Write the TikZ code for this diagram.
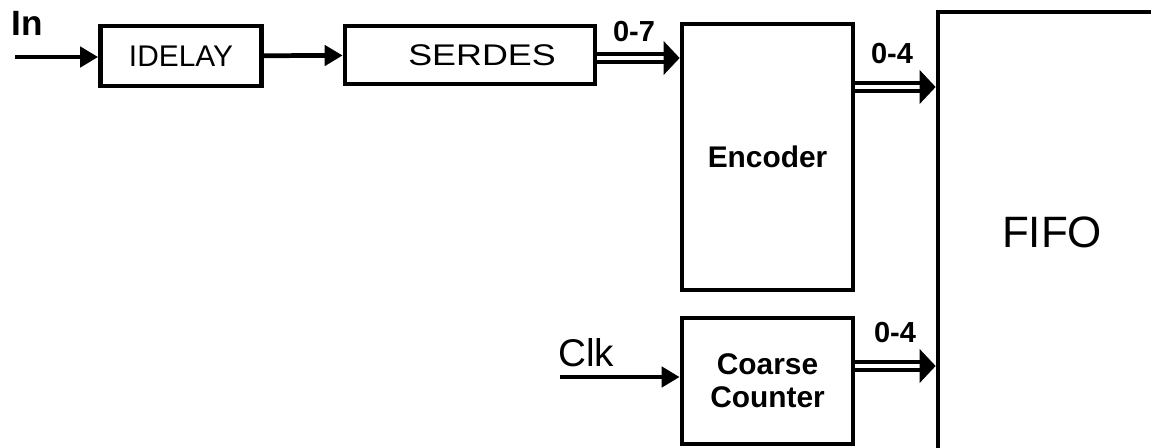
\documentclass[tikz,border=0pt]{standalone}
\usepackage{fontspec}
\setmainfont{Liberation Sans}
\usetikzlibrary{arrows.meta,positioning}

\begin{document}
\begin{tikzpicture}[x=0.02cm, y=-0.02cm, >={Triangle[length=0.36cm,width=0.4cm]}, line width=2.7pt]
    % Define styles
    \tikzstyle{block} = [rectangle, draw, line width=2.7pt, inner sep=0pt, align=center, font=\fontsize{17}{19}\selectfont]
    \tikzstyle{bold block} = [block, font=\fontsize{17}{19}\selectfont\bfseries]
    \tikzstyle{bus} = [double, double distance=1.9pt, -{Triangle[length=0.32cm,width=0.66cm]}]
    \tikzstyle{bus label} = [inner sep=0pt, font=\fontsize{16.5}{18}\selectfont\bfseries]

    % Frame
    \useasboundingbox (0,0) rectangle (1151,447);
    \clip (0,0) rectangle (1151,447);

    % Blocks
    \node[block, minimum width=3.22cm, minimum height=1.2cm] (idelay) at (181,56) {IDELAY};
    \node[block, minimum width=5cm, minimum height=1.16cm] (serdes) at (470,55) {\hspace*{0.48cm}\scalebox{1.2}[1]{SERDES}};
    \node[bold block, minimum width=3.42cm, minimum height=5.32cm] (encoder) at (767.5,157) {Encoder};
    \node[bold block, minimum width=3.42cm, minimum height=2.52cm] (coarse) at (767.5,381) {Coarse\\Counter};
    \node[block, minimum width=4.56cm, minimum height=8.8cm, font=\fontsize{25}{28}\selectfont] (fifo) at (1052,232) {FIFO};

    % Inputs
    \coordinate (inpt) at (15,57);
    \coordinate (clkpt) at (560,377);
    \node[inner sep=0pt, font=\fontsize{20}{22}\selectfont\bfseries] (inlabel) at (27,23) {In};
    \node[inner sep=0pt, font=\fontsize{22}{24}\selectfont] (clklabel) at (586,353) {Clk};

    % Single arrows
    \draw[->] (inpt) -- (inpt -| idelay.west);
    \draw[->] (idelay) -- (serdes);
    \draw[->] (clkpt) -- (clkpt -| coarse.west);

    % Bus arrows with labels
    \draw[bus] (serdes.east |- 0,58) -- (encoder.west |- 0,58);
    \draw[bus] (encoder.east |- 0,87) -- (fifo.west |- 0,87);
    \draw[bus] (coarse.east |- 0,366) -- (fifo.west |- 0,366);
    \node[bus label] (bits7) at (634,32) {0-7};
    \node[bus label] (bits4a) at (892,54) {0-4};
    \node[bus label] (bits4b) at (895,333) {0-4};
\end{tikzpicture}
\end{document}
